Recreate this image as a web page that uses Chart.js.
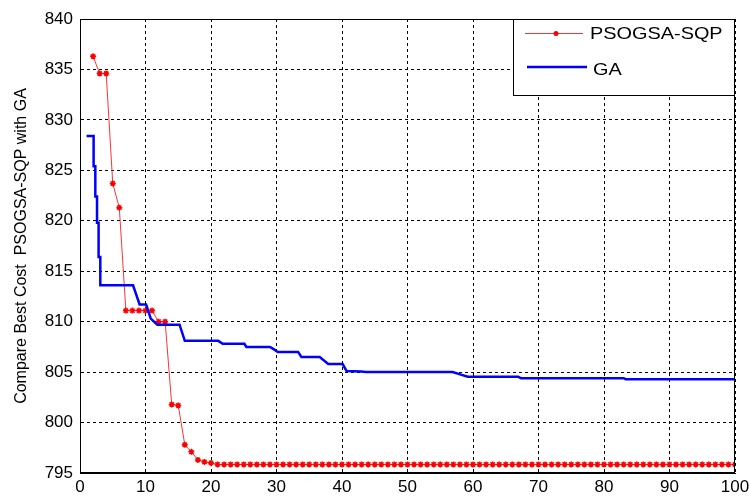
<!DOCTYPE html>
<html>
<head>
<meta charset="utf-8">
<script src="https://cdn.jsdelivr.net/npm/chart.js@4.4.1/dist/chart.umd.min.js"></script>
<style>
  html, body { margin: 0; padding: 0; background: #fff; }
</style>
</head>
<body>
<canvas id="costChart" width="749" height="496"></canvas>
<script>
// PSOGSA-SQP: one value per iteration, starting at iteration 2
const psoFirstIter = 2;
const psoCost = [
    836.3, 834.6, 834.6, 823.7, 821.3, 811.1, 811.1, 811.1, 811.1, 811.1,
    810.0, 810.0, 801.8, 801.7, 797.8, 797.1, 796.3, 796.1, 796.0, 795.85,
    795.85, 795.85, 795.85, 795.85, 795.85, 795.85, 795.85, 795.85, 795.85, 795.85,
    795.85, 795.85, 795.85, 795.85, 795.85, 795.85, 795.85, 795.85, 795.85, 795.85,
    795.85, 795.85, 795.85, 795.85, 795.85, 795.85, 795.85, 795.85, 795.85, 795.85,
    795.85, 795.85, 795.85, 795.85, 795.85, 795.85, 795.85, 795.85, 795.85, 795.85,
    795.85, 795.85, 795.85, 795.85, 795.85, 795.85, 795.85, 795.85, 795.85, 795.85,
    795.85, 795.85, 795.85, 795.85, 795.85, 795.85, 795.85, 795.85, 795.85, 795.85,
    795.85, 795.85, 795.85, 795.85, 795.85, 795.85, 795.85, 795.85, 795.85, 795.85,
    795.85, 795.85, 795.85, 795.85, 795.85, 795.85, 795.85, 795.85, 795.85
];

// GA: vertices of the best-cost curve
const gaIter = [
    1, 2.08, 2.08, 2.34, 2.34, 2.6, 2.6, 2.84, 2.84, 3.1, 3.1,
    8.1, 9.1, 10.1, 10.8, 11.8, 15.2, 16.0, 21.1, 21.8, 25.1, 25.4,
    29.0, 29.5, 30.2, 33.3, 33.8, 36.6, 37.9, 40.1, 40.7, 42.9, 43.7,
    56.9, 57.9, 59.2, 66.9, 67.3, 83.0, 83.3, 100
];
const gaCost = [
    828.4, 828.4, 825.4, 825.4, 822.4, 822.4, 819.8, 819.8, 816.4, 816.4, 813.6,
    813.6, 811.7, 811.7, 810.3, 809.7, 809.7, 808.1, 808.1, 807.8, 807.8, 807.5,
    807.5, 807.3, 807.0, 807.0, 806.5, 806.5, 805.8, 805.8, 805.1, 805.05, 805.0,
    805.0, 804.8, 804.55, 804.55, 804.4, 804.4, 804.3, 804.3
];

const seriesLabels = ['PSOGSA-SQP', 'GA'];
const xTicks = [0, 10, 20, 30, 40, 50, 60, 70, 80, 90, 100];
const yTicks = [795, 800, 805, 810, 815, 820, 825, 830, 835, 840];

const FONT = "'Liberation Sans', Arial, sans-serif";

const psoPoints = psoCost.map((v, i) => ({ x: psoFirstIter + i, y: v }));
const gaPoints = gaIter.map((x, i) => ({ x: x, y: gaCost[i] }));

// box round the plot and the legend inside the upper right corner
const frameAndLegend = {
    id: 'frameAndLegend',
    afterDraw(chart) {
        const { ctx, chartArea: a } = chart;
        ctx.save();
        ctx.strokeStyle = '#000';
        ctx.lineWidth = 1;
        ctx.setLineDash([]);
        ctx.strokeRect(a.left + 0.5, a.top + 0.5, a.width - 1, a.height - 1);

        const bx = a.right - 222, by = a.top, bw = 222, bh = 77;
        ctx.fillStyle = '#fff';
        ctx.fillRect(bx, by, bw, bh);
        ctx.strokeRect(bx + 0.5, by + 0.5, bw - 1, bh - 1);

        const ds = chart.data.datasets;
        // red entry
        ctx.strokeStyle = ds[0].borderColor;
        ctx.lineWidth = 1;
        ctx.beginPath();
        ctx.moveTo(bx + 12, by + 14.5);
        ctx.lineTo(bx + 70, by + 14.5);
        ctx.stroke();
        ctx.fillStyle = ds[0].pointBackgroundColor;
        ctx.beginPath();
        ctx.arc(bx + 43, by + 14.5, 2.5, 0, Math.PI * 2);
        ctx.fill();
        // blue entry
        ctx.strokeStyle = ds[1].borderColor;
        ctx.lineWidth = 2.5;
        ctx.beginPath();
        ctx.moveTo(bx + 14, by + 48);
        ctx.lineTo(bx + 74, by + 48);
        ctx.stroke();

        ctx.fillStyle = '#000';
        ctx.font = '17px ' + FONT;
        ctx.textBaseline = 'middle';
        ctx.textAlign = 'left';
        ctx.save();
        ctx.translate(bx + 77, by + 15);
        ctx.scale(1.17, 1);
        ctx.fillText(ds[0].label, 0, 0);
        ctx.restore();
        ctx.save();
        ctx.translate(bx + 80, by + 51);
        ctx.scale(1.17, 1);
        ctx.fillText(ds[1].label, 0, 0);
        ctx.restore();
        ctx.restore();
    }
};

const chart = new Chart(document.getElementById('costChart'), {
    type: 'line',
    data: {
        datasets: [
            {
                label: seriesLabels[0],
                data: psoPoints,
                borderColor: '#ff3333',
                borderWidth: 1,
                pointStyle: 'star',
                pointRadius: 3,
                pointBorderWidth: 1.5,
                pointBorderColor: '#ff0000',
                pointBackgroundColor: '#ff0000',
                tension: 0,
                order: 1
            },
            {
                label: seriesLabels[1],
                data: gaPoints,
                borderColor: '#0000ff',
                borderWidth: 2.5,
                pointRadius: 0,
                tension: 0,
                order: 0
            }
        ]
    },
    options: {
        responsive: false,
        animation: false,
        events: [],
        layout: { padding: { top: 19, right: 0, left: 0, bottom: 0 } },
        plugins: {
            legend: { display: false },
            tooltip: { enabled: false }
        },
        scales: {
            x: {
                type: 'linear',
                min: 0,
                max: 100,
                afterBuildTicks: s => { s.ticks = xTicks.map(v => ({ value: v })); },
                afterFit: s => { s.height = 23; s.paddingRight = 14; s.paddingLeft = 0; },
                grid: { color: '#000', lineWidth: 1, drawTicks: false },
                border: { display: true, color: '#000', dash: [3, 3] },
                ticks: { color: '#000', font: { family: FONT, size: 17 }, padding: 4, maxRotation: 0 }
            },
            y: {
                min: 795,
                max: 840,
                afterBuildTicks: s => { s.ticks = yTicks.map(v => ({ value: v })); },
                afterFit: s => { s.width = 80; },
                grid: { color: '#000', lineWidth: 1, drawTicks: false },
                border: { display: true, color: '#000', dash: [3, 3] },
                ticks: { color: '#000', font: { family: FONT, size: 17 }, padding: 7 },
                title: {
                    display: true,
                    text: 'Compare Best Cost  PSOGSA-SQP with GA',
                    color: '#000',
                    font: { family: FONT, size: 16 },
                    padding: { top: 12, bottom: 0 }
                }
            }
        }
    },
    plugins: [frameAndLegend]
});
</script>
</body>
</html>
